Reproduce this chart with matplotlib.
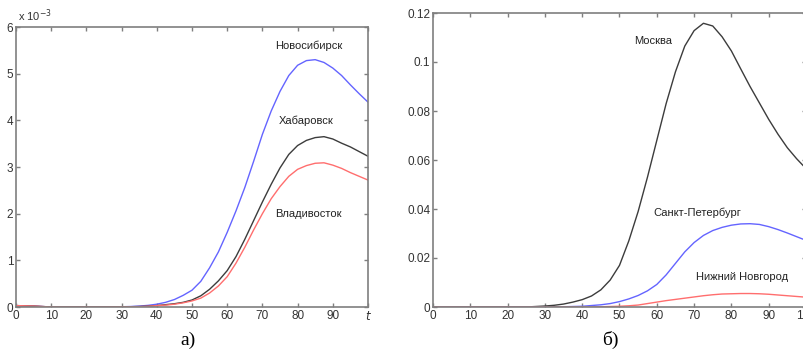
import matplotlib
matplotlib.use('Agg')
import matplotlib.pyplot as plt

plt.rcParams['font.family'] = ['Liberation Sans', 'DejaVu Sans']

# --- a) данные, x 10^-3 ---
t_a = [0, 5, 10, 15, 20, 25, 30, 32.5, 35, 37.5, 40, 42.5, 45, 47.5, 50, 52.5, 55, 57.5,
       60, 62.5, 65, 67.5, 70, 72.5, 75, 77.5, 80, 82.5, 85, 87.5, 90, 92.5, 95, 97.5, 100]
novosib = [0.03, 0.02, 0, 0, 0, 0, 0.005, 0.01, 0.02, 0.035, 0.06, 0.1, 0.16, 0.25, 0.36,
           0.55, 0.84, 1.18, 1.6, 2.06, 2.56, 3.12, 3.7, 4.2, 4.62, 4.96, 5.18, 5.28, 5.3,
           5.24, 5.12, 4.96, 4.76, 4.57, 4.39]
khabar = [0.03, 0.02, 0, 0, 0, 0, 0.003, 0.006, 0.01, 0.018, 0.03, 0.05, 0.07, 0.1, 0.15,
          0.24, 0.38, 0.56, 0.78, 1.08, 1.45, 1.85, 2.25, 2.63, 2.98, 3.27, 3.46, 3.57, 3.63,
          3.65, 3.6, 3.51, 3.43, 3.33, 3.23]
vladiv = [0.03, 0.02, 0, 0, 0, 0, 0.002, 0.005, 0.008, 0.015, 0.03, 0.04, 0.06, 0.09, 0.13,
          0.19, 0.3, 0.45, 0.65, 0.94, 1.28, 1.65, 2.0, 2.32, 2.58, 2.8, 2.95, 3.03, 3.08,
          3.09, 3.04, 2.97, 2.88, 2.8, 2.72]

# --- б) данные ---
t_b = [0, 5, 10, 15, 20, 25, 30, 32.5, 35, 37.5, 40, 42.5, 45, 47.5, 50, 52.5, 55, 57.5,
       60, 62.5, 65, 67.5, 70, 72.5, 75, 77.5, 80, 82.5, 85, 87.5, 90, 92.5, 95, 97.5, 100]
moskva = [0, 0, 0, 0, 0, 0, 0.0004, 0.0007, 0.0012, 0.002, 0.003, 0.0045, 0.007, 0.011,
          0.017, 0.027, 0.039, 0.053, 0.068, 0.083, 0.096, 0.1065, 0.1128, 0.1158, 0.1147,
          0.1103, 0.1045, 0.0972, 0.09, 0.0833, 0.0766, 0.0705, 0.065, 0.0605, 0.0565]
spb = [0, 0, 0, 0, 0, 0, 0, 0, 0.0001, 0.0002, 0.0003, 0.0006, 0.0009, 0.0014, 0.0022,
       0.0033, 0.0047, 0.0066, 0.0092, 0.0131, 0.0178, 0.0225, 0.0263, 0.0292, 0.0312,
       0.0325, 0.0334, 0.0339, 0.034, 0.0337, 0.0328, 0.0316, 0.0302, 0.0287, 0.0272]
nnov = [0, 0, 0, 0, 0, 0, 0, 0, 0, 0, 0, 0, 0.0001, 0.0002, 0.0003, 0.0005, 0.0008, 0.0014,
        0.002, 0.0026, 0.0031, 0.0036, 0.0041, 0.0046, 0.005, 0.0053, 0.0054, 0.0055,
        0.0055, 0.0054, 0.0052, 0.0049, 0.0046, 0.0043, 0.004]

BLUE = '#6464ff'
BLACK = '#3c3c3c'
RED = '#ff6e6e'
SPINE = '#7f7f7f'
TXT = '#333333'

fig = plt.figure(figsize=(8.04, 3.56), dpi=100)
ax1 = fig.add_axes([16 / 804, 1 - 307 / 356, (368 - 16) / 804, 280 / 356])
ax2 = fig.add_axes([433 / 804, 1 - 307 / 356, (806 - 433) / 804, 294 / 356])


def style(ax):
    for s in ax.spines.values():
        s.set_color(SPINE)
        s.set_linewidth(1.2)
    ax.tick_params(direction='in', length=3, width=1, color=SPINE, labelcolor=TXT,
                   labelsize=8.5, top=True, right=True, pad=2)


# a)
ax1.plot(t_a, novosib, color=BLUE, lw=1)
ax1.plot(t_a, khabar, color=BLACK, lw=1)
ax1.plot(t_a, vladiv, color=RED, lw=1)
ax1.set_xlim(0, 100)
ax1.set_ylim(0, 6)
ax1.set_xticks(range(0, 101, 10))
ax1.set_xticklabels([str(v) for v in range(0, 100, 10)] + ['$t$'])
ax1.set_yticks(range(0, 7))
style(ax1)
ax1.text(83.3, 5.59, 'Новосибирск', fontsize=8, ha='center', va='center', color='#222222')
ax1.text(82.4, 3.98, 'Хабаровск', fontsize=8, ha='center', va='center', color='#222222')
ax1.text(83, 1.99, 'Владивосток', fontsize=8, ha='center', va='center', color='#222222')
ax1.text(0.005, 1.01, 'x 10$^{-3}$', transform=ax1.transAxes, fontsize=8, color=TXT,
         ha='left', va='bottom')

# б)
ax2.plot(t_b, moskva, color=BLACK, lw=1)
ax2.plot(t_b, spb, color=BLUE, lw=1)
ax2.plot(t_b, nnov, color=RED, lw=1)
ax2.set_xlim(0, 100)
ax2.set_ylim(0, 0.12)
ax2.set_xticks(range(0, 101, 10))
ax2.set_yticks([0, 0.02, 0.04, 0.06, 0.08, 0.1, 0.12])
ax2.set_yticklabels(['0', '0.02', '0.04', '0.06', '0.08', '0.1', '0.12'])
style(ax2)
ax2.text(59, 0.1086, 'Москва', fontsize=8, ha='center', va='center', color='#222222')
ax2.text(70.8, 0.0384, 'Санкт-Петербург', fontsize=8, ha='center', va='center', color='#222222')
ax2.text(82.8, 0.0122, 'Нижний Новгород', fontsize=8, ha='center', va='center', color='#222222')

fig.text(188 / 804, 1 - 340 / 356, 'а)', family='Liberation Serif', fontsize=14,
         ha='center', va='center')
fig.text(610 / 804, 1 - 340 / 356, 'б)', family='Liberation Serif', fontsize=14,
         ha='center', va='center')

fig.savefig('out.png', dpi=100)
